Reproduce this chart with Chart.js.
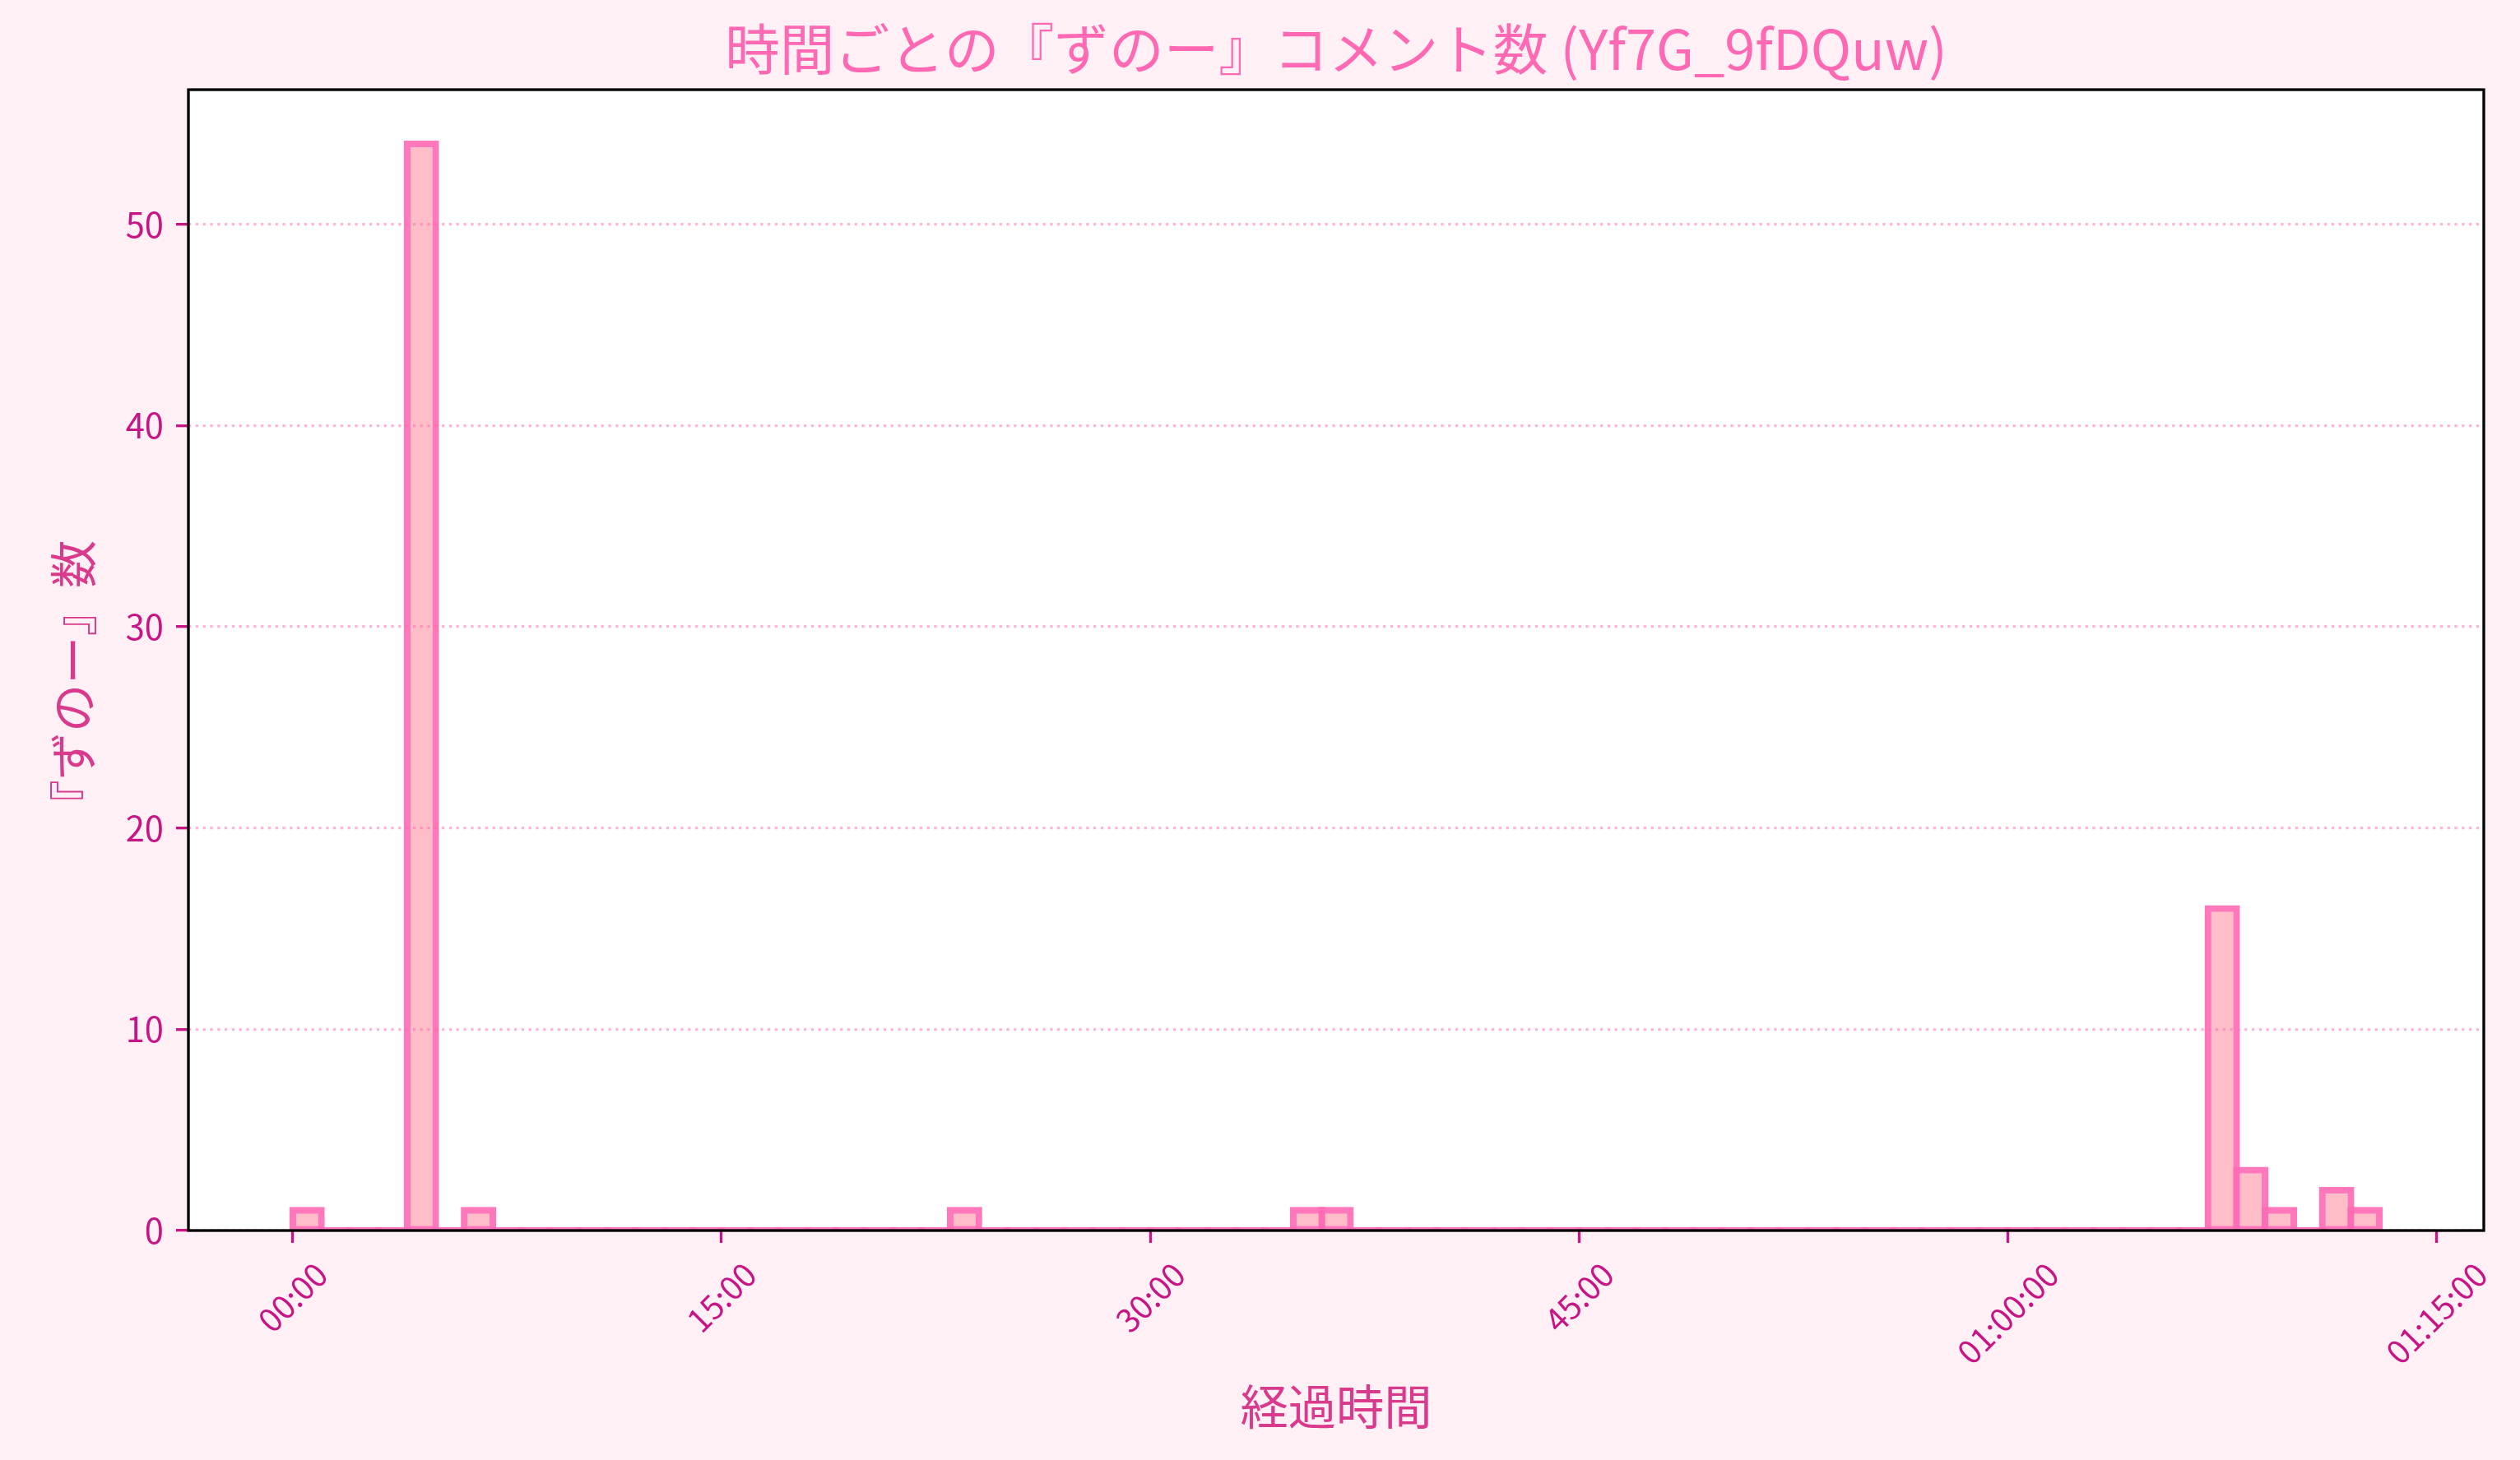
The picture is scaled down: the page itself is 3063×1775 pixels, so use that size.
<!DOCTYPE html>
<html lang="ja">
<head>
<meta charset="utf-8">
<title>時間ごとの『ずのー』コメント数</title>
<script src="https://cdn.jsdelivr.net/npm/chart.js@4"></script>
<style>
  html, body { margin: 0; padding: 0; background: #fff0f5; }
  #wrap { width: 3063px; height: 1775px; }
</style>
</head>
<body>
<div id="wrap"><canvas id="myChart"></canvas></div>
<script>
// 1-minute bins (start minute of each bin)
const binStart = [
   0,  1,  2,  3,  4,  5,  6,  7,  8,  9,
  10, 11, 12, 13, 14, 15, 16, 17, 18, 19,
  20, 21, 22, 23, 24, 25, 26, 27, 28, 29,
  30, 31, 32, 33, 34, 35, 36, 37, 38, 39,
  40, 41, 42, 43, 44, 45, 46, 47, 48, 49,
  50, 51, 52, 53, 54, 55, 56, 57, 58, 59,
  60, 61, 62, 63, 64, 65, 66, 67, 68, 69,
  70, 71, 72
];
const binWidth = 1;
// 『ずのー』 comments per bin
const zunoCount = [
  1, 0, 0, 0, 54, 0, 1, 0, 0, 0,
  0, 0, 0, 0, 0, 0, 0, 0, 0, 0,
  0, 0, 0, 1, 0, 0, 0, 0, 0, 0,
  0, 0, 0, 0, 0, 1, 1, 0, 0, 0,
  0, 0, 0, 0, 0, 0, 0, 0, 0, 0,
  0, 0, 0, 0, 0, 0, 0, 0, 0, 0,
  0, 0, 0, 0, 0, 0, 0, 16, 3, 1,
  0, 2, 1
];
const xTickMinutes = [0, 15, 30, 45, 60, 75];
const xTickLabels = ['00:00', '15:00', '30:00', '45:00', '01:00:00', '01:15:00'];
const yTicks = [0, 10, 20, 30, 40, 50];
const yLabel = '『ずのー』数';

const FONT = '"Noto Sans CJK JP", "Noto Sans", sans-serif';
const EDGE_W = 8.33;      // 2pt at 300dpi
const LINE_W = 3.33;      // 0.8pt
const TICK_LEN = 15;
const TICK_COLOR = '#C71585';
const LABEL_COLOR = '#D93A8B';
const X_TICK_SIZE = 39.5;
const LABEL_SIZE = 58.3;

// matplotlib style 5% margins around the data
const firstEdge = binStart[0];
const lastEdge = binStart[binStart.length - 1] + binWidth;
const xMargin = (lastEdge - firstEdge) * 0.05;
const yMax = Math.max(...zunoCount) * 1.05;

// edges are stroked centred on the bin outline, like matplotlib patches
const centredEdges = {
  id: 'centredEdges',
  afterDatasetsUpdate(chart) {
    chart.getDatasetMeta(0).data.forEach(bar => {
      bar.y -= EDGE_W / 2;
      bar.base += EDGE_W / 2;
      bar.width += EDGE_W;
    });
  }
};

const frame = {
  id: 'frame',
  beforeDraw(chart) {
    const {ctx, chartArea: a} = chart;
    ctx.save();
    ctx.fillStyle = '#ffffff';
    ctx.fillRect(a.left, a.top, a.right - a.left, a.bottom - a.top);
    ctx.restore();
  },
  afterDraw(chart) {
    const {ctx, chartArea: a, scales: {x}} = chart;
    ctx.save();
    ctx.strokeStyle = '#000000';
    ctx.lineWidth = LINE_W;
    ctx.strokeRect(a.left, a.top, a.right - a.left, a.bottom - a.top);

    // rotated x tick labels, centred under their tick
    ctx.font = `${X_TICK_SIZE}px ${FONT}`;
    ctx.fillStyle = TICK_COLOR;
    ctx.textAlign = 'center';
    ctx.textBaseline = 'middle';
    const top = a.bottom + TICK_LEN + 14.6;
    xTickMinutes.forEach((m, i) => {
      const w = ctx.measureText(xTickLabels[i]).width;
      const half = (w + X_TICK_SIZE * 1.2) * Math.SQRT1_2 / 2;
      ctx.save();
      ctx.translate(x.getPixelForValue(m), top + half);
      ctx.rotate(-Math.PI / 4);
      ctx.fillText(xTickLabels[i], 0, 0);
      ctx.restore();
    });

    // y axis label (sits half an em below the axes centre in the original)
    ctx.font = `${LABEL_SIZE}px ${FONT}`;
    ctx.fillStyle = LABEL_COLOR;
    ctx.save();
    ctx.translate(89, (a.top + a.bottom) / 2 + LABEL_SIZE / 2);
    ctx.rotate(-Math.PI / 2);
    ctx.fillText(yLabel, 0, 0);
    ctx.restore();
    ctx.restore();
  }
};

let myChart = null;
function iscrtaj() {
  const ctx = document.getElementById('myChart');
  if (myChart) myChart.destroy();

  myChart = new Chart(ctx, {
    type: 'bar',
    data: {
      datasets: [{
        data: binStart.map((b, i) => ({x: b + binWidth / 2, y: zunoCount[i]})),
        backgroundColor: 'rgba(255, 182, 193, 0.9)',
        borderColor: 'rgba(255, 105, 180, 0.9)',
        borderWidth: EDGE_W,
        borderSkipped: false,
        inflateAmount: 0,
        barPercentage: 1,
        categoryPercentage: 1,
        clip: 0
      }]
    },
    options: {
      responsive: true,
      maintainAspectRatio: false,
      devicePixelRatio: 1,
      animation: false,
      events: [],
      layout: { padding: { left: 0, right: 44, top: 0, bottom: 0 } },
      plugins: {
        legend: { display: false },
        tooltip: { enabled: false },
        title: {
          display: true,
          fullSize: false,
          text: '時間ごとの『ずのー』コメント数 (Yf7G_9fDQuw)',
          color: '#FF69B4',
          font: { family: FONT, size: 66.7, weight: 'normal', lineHeight: 1.2 },
          padding: { top: 20, bottom: 9 }
        }
      },
      scales: {
        x: {
          type: 'linear',
          min: firstEdge - xMargin,
          max: lastEdge + xMargin,
          offset: false,
          afterBuildTicks: s => { s.ticks = xTickMinutes.map(v => ({value: v})); },
          afterFit: s => { s.height = 279; },
          grid: {
            display: true, offset: false, drawOnChartArea: false, drawTicks: true,
            tickLength: TICK_LEN, tickWidth: LINE_W, tickColor: TICK_COLOR
          },
          border: { display: false },
          ticks: { display: false },
          title: {
            display: true,
            text: '経過時間',
            color: LABEL_COLOR,
            font: { family: FONT, size: LABEL_SIZE, lineHeight: 1.2 },
            padding: { top: 0, bottom: 30 }
          }
        },
        y: {
          min: 0,
          max: yMax,
          afterBuildTicks: s => { s.ticks = yTicks.map(v => ({value: v})); },
          afterFit: s => { s.width = 229; },
          grid: {
            color: 'rgba(255, 105, 180, 0.5)',
            lineWidth: LINE_W,
            tickLength: TICK_LEN, tickWidth: LINE_W, tickColor: TICK_COLOR,
            z: 1
          },
          border: { display: false, dash: [3.3, 5.5] },
          ticks: {
            color: TICK_COLOR,
            font: { family: FONT, size: 41.7 },
            padding: 15
          },
          title: { display: false }
        }
      }
    },
    plugins: [centredEdges, frame]
  });
}

document.fonts.load(`40px ${FONT}`).then(iscrtaj, iscrtaj);
</script>
</body>
</html>
